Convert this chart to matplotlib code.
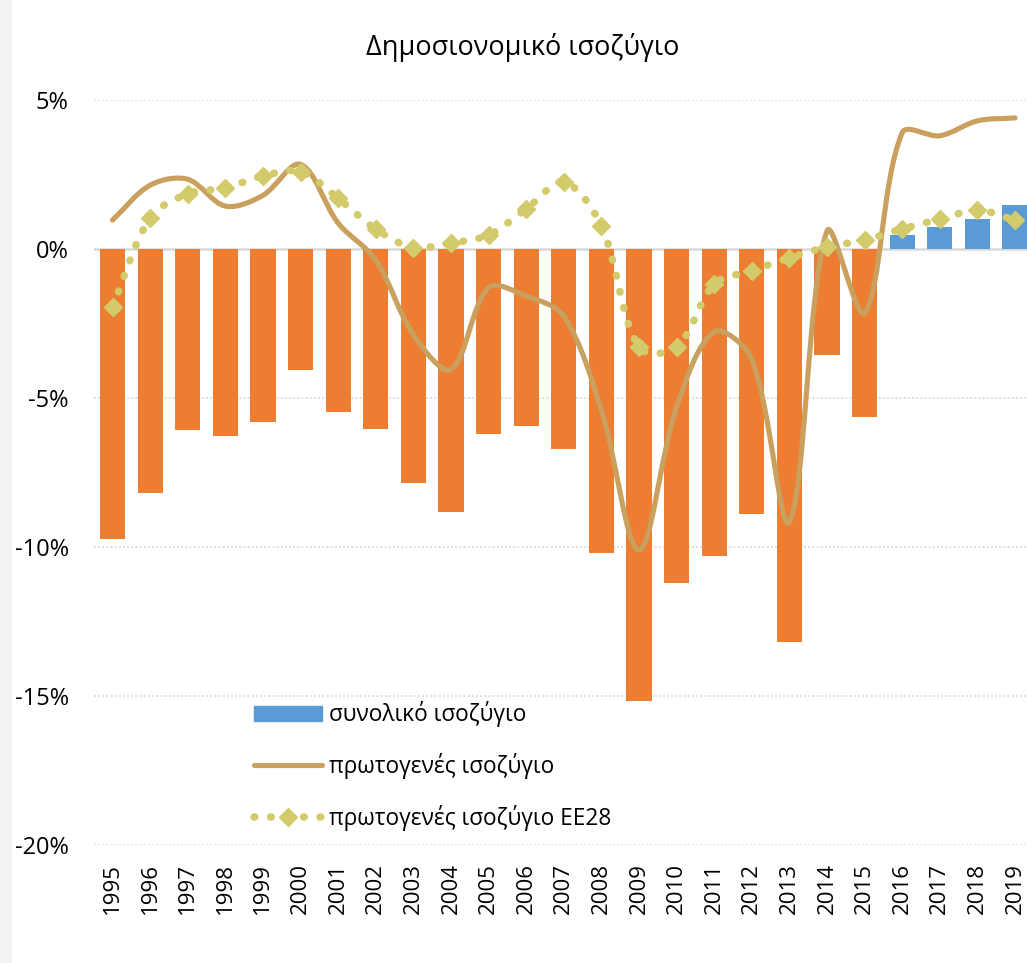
import matplotlib
matplotlib.use('Agg')

import matplotlib.pyplot as plt
import numpy as np
from matplotlib.path import Path
from matplotlib.patches import PathPatch, Rectangle
from matplotlib.lines import Line2D

plt.rcParams['font.family'] = ['Open Sans', 'DejaVu Sans']

# --- data ---
years = [str(y) for y in range(1995, 2020)]
total_balance = [-9.74, -8.2, -6.08, -6.29, -5.81, -4.07, -5.47, -6.05, -7.86, -8.84,
                 -6.22, -5.95, -6.72, -10.2, -15.17, -11.2, -10.3, -8.89, -13.19, -3.56,
                 -5.64, 0.48, 0.73, 1.0, 1.47]
primary_balance = [0.97, 2.14, 2.34, 1.44, 1.8, 2.84, 0.87, -0.37, -2.87, -4.04,
                   -1.3, -1.58, -2.25, -5.4, -10.1, -5.3, -2.78, -3.7, -9.16, 0.6,
                   -2.15, 3.9, 3.8, 4.3, 4.4]
primary_eu28 = [-1.95, 1.04, 1.85, 2.05, 2.45, 2.6, 1.7, 0.67, 0.05, 0.2,
                0.47, 1.34, 2.25, 0.77, -3.3, -3.3, -1.18, -0.73, -0.3, 0.07,
                0.3, 0.67, 1.0, 1.3, 0.97]
yticks = [5, 0, -5, -10, -15, -20]

c_neg = '#ED7D31'
c_pos = '#5B9BD5'
c_prim = '#C9A05E'
c_eu = '#D3CB6B'

W, H = 1027, 963
step = (1015 - 112.5) / 24          # px per category
ppu = (845 - 100) / 25.0            # px per 1 %


def smooth_path(xs, ys):
    # Excel-like smoothed line: bezier through every point, control arms
    # weighted by the on-screen length of the neighbouring segments
    pts = np.column_stack([xs, ys]).astype(float)
    scale = np.array([step, ppu])
    n = len(pts)
    ext = np.vstack([pts[0], pts, pts[-1]])
    out_arm, in_arm = [], []
    for i in range(n):
        pm, p, pn = ext[i], ext[i + 1], ext[i + 2]
        d1 = np.linalg.norm((p - pm) * scale)
        d2 = np.linalg.norm((pn - p) * scale)
        tot = d1 + d2 if d1 + d2 > 0 else 1.0
        t = (pn - pm) / 3.0
        out_arm.append(t * d2 / tot)
        in_arm.append(t * d1 / tot)
    verts = [pts[0]]
    codes = [Path.MOVETO]
    for i in range(n - 1):
        verts += [pts[i] + out_arm[i], pts[i + 1] - in_arm[i + 1], pts[i + 1]]
        codes += [Path.CURVE4] * 3
    return Path(verts, codes)


fig = plt.figure(figsize=(W / 100, H / 100), dpi=100)
fig.patches.append(Rectangle((0, 0), 11 / W, 1, transform=fig.transFigure,
                             color='#F2F2F2', zorder=-5))

left = 112.5 - step / 2
ax = fig.add_axes([left / W, (H - 845) / H, (step * 25) / W, (845 - 100) / H])

x = np.arange(len(years))
colors = [c_pos if v > 0 else c_neg for v in total_balance]
ax.bar(x, total_balance, width=0.67, color=colors, zorder=2)

dots = (0, (0.1, 2.1))
ax.add_patch(PathPatch(smooth_path(x, primary_balance), fill=False, edgecolor=c_prim,
                       linewidth=3.7, capstyle='round', joinstyle='round', zorder=4))
ax.add_patch(PathPatch(smooth_path(x, primary_eu28), fill=False, edgecolor=c_eu,
                       linewidth=5.4, linestyle=dots, capstyle='round', zorder=5))
ax.plot(x, primary_eu28, linestyle='none', marker='D', markersize=9,
        color=c_eu, zorder=6)

ax.set_xlim(-0.5, len(years) - 0.5)
ax.set_ylim(-20, 5)
ax.set_yticks(yticks)
ax.set_yticklabels([f'{t}%' for t in yticks], fontsize=17)
ax.set_xticks(x)
ax.set_xticklabels(years, rotation=90, fontsize=16)
ax.tick_params(axis='both', length=0)
ax.tick_params(axis='y', pad=18)
ax.tick_params(axis='x', pad=13)

for t in yticks:
    if t == 0:
        ax.axhline(0, color='#D9D9D9', linewidth=1.8, zorder=1)
    else:
        ax.axhline(t, color='#D9D9D9', linewidth=1.3, linestyle=(0, (1, 1.3)), zorder=1)

for s in ax.spines.values():
    s.set_visible(False)

fig.text(523 / W, 1 - 48 / H, 'Δημοσιονομικό ισοζύγιο', ha='center', va='center',
         fontsize=19.5)

handles = [
    Rectangle((0, 0), 1, 1, color=c_pos),
    Line2D([], [], color=c_prim, linewidth=3.7, solid_capstyle='round'),
    Line2D([], [], color=c_eu, linewidth=5.4, linestyle=dots,
           dash_capstyle='round', marker='D', markersize=9),
]
labels = ['συνολικό ισοζύγιο', 'πρωτογενές ισοζύγιο', 'πρωτογενές ισοζύγιο ΕΕ28']
ax.legend(handles, labels, loc='upper left', bbox_to_anchor=(245 / W, 1 - 692 / H),
          bbox_transform=fig.transFigure, frameon=False, fontsize=16.3,
          handlelength=3.0, handleheight=0.65, handletextpad=0.3, labelspacing=1.15,
          borderaxespad=0)

fig.savefig('out.png', dpi=100)
